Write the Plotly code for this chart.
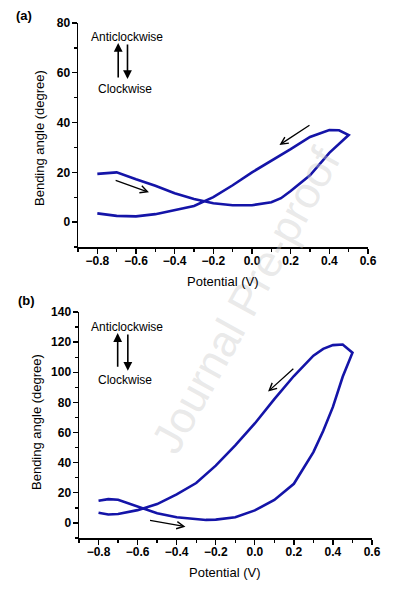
import plotly.graph_objects as go

# Panel (a) data: forward sweep then backward sweep
potential_a = [-0.8, -0.7, -0.6, -0.5, -0.4, -0.3, -0.2, -0.1, 0.0, 0.1, 0.15, 0.2, 0.3, 0.4, 0.5,
               0.45, 0.4, 0.3, 0.2, 0.1, 0.0, -0.1, -0.2, -0.3, -0.4, -0.5, -0.6, -0.7, -0.8]
angle_a = [19.4, 20.0, 17.2, 14.6, 11.6, 9.3, 7.6, 6.8, 6.8, 8.0, 9.6, 12.5, 18.8, 27.8, 35.0,
           36.9, 37.0, 34.2, 29.3, 24.6, 20.0, 14.8, 10.0, 6.5, 4.7, 3.2, 2.3, 2.5, 3.5]

# Panel (b) data
potential_b = [-0.8, -0.75, -0.7, -0.6, -0.5, -0.4, -0.3, -0.25, -0.2, -0.1, 0.0, 0.1, 0.2, 0.3, 0.35, 0.4, 0.45, 0.5,
               0.45, 0.4, 0.35, 0.3, 0.2, 0.1, 0.0, -0.1, -0.2, -0.3, -0.4, -0.5, -0.6, -0.7, -0.75, -0.8]
angle_b = [14.7, 15.8, 15.4, 10.8, 6.4, 3.8, 2.3, 2.0, 2.2, 3.8, 8.3, 15.3, 26.0, 47.0, 61.0, 77.0, 97.0, 113.0,
           118.4, 118.0, 115.5, 111.0, 97.5, 82.2, 66.0, 51.5, 38.0, 26.5, 19.0, 12.5, 8.5, 5.9, 5.6, 6.8]

x_ticks = [-0.8, -0.6, -0.4, -0.2, 0.0, 0.2, 0.4, 0.6]
y_ticks_a = [0, 20, 40, 60, 80]
y_ticks_b = [0, 20, 40, 60, 80, 100, 120, 140]

LINE = "#1414a8"
FONT = "Liberation Sans, Arial, sans-serif"
W, H = 394, 594

fig = go.Figure()
fig.add_trace(go.Scatter(x=potential_a, y=angle_a, mode="lines", line=dict(color=LINE, width=2.6),
                         xaxis="x", yaxis="y", showlegend=False, hoverinfo="skip"))
fig.add_trace(go.Scatter(x=potential_b, y=angle_b, mode="lines", line=dict(color=LINE, width=2.6),
                         xaxis="x2", yaxis="y2", showlegend=False, hoverinfo="skip"))

def px_domain(a, b, total):
    return [a / total, b / total]

ax_common = dict(showline=True, linecolor="black", linewidth=1.5, ticks="outside", ticklen=5,
                 tickwidth=1.3, tickcolor="black", showgrid=False, zeroline=False, mirror=False,
                 automargin=False,
                 tickfont=dict(family=FONT, size=12, color="black", weight="bold"))
minor_x = dict(dtick=0.1, tick0=-0.9, ticklen=3, ticks="outside", tickcolor="black")
minor_y = dict(dtick=10, tick0=-10, ticklen=3, ticks="outside", tickcolor="black")

fig.update_layout(
    width=W, height=H, margin=dict(l=0, r=0, t=0, b=0, autoexpand=False),
    paper_bgcolor="white", plot_bgcolor="white", hovermode=False,
    xaxis=dict(domain=px_domain(78, 368, W), range=[-0.9, 0.6], tickvals=x_ticks, tickformat=".1f",
               anchor="y", minor=minor_x, ticklabelstandoff=-3, **ax_common),
    yaxis=dict(domain=[1 - 247 / H, 1 - 23 / H], range=[-10, 80], tickvals=y_ticks_a, anchor="x",
               minor=minor_y, ticklabelstandoff=-1, **ax_common),
    xaxis2=dict(domain=px_domain(79, 372, W), range=[-0.9, 0.6], tickvals=x_ticks, tickformat=".1f",
                anchor="y2", minor=minor_x, ticklabelstandoff=-3, **ax_common),
    yaxis2=dict(domain=[1 - 538 / H, 1 - 312 / H], range=[-10, 140], tickvals=y_ticks_b, anchor="x2",
                minor=minor_y, ticklabelstandoff=-1, **ax_common),
)

def ptxt(cx, cy, t, size=13, angle=0, color="black", bold=False):
    f = dict(family=FONT, size=size, color=color)
    if bold:
        f["weight"] = "bold"
    return dict(xref="paper", yref="paper", x=cx / W, y=1 - cy / H, text=t, showarrow=False,
                xanchor="center", yanchor="middle", textangle=angle, font=f)

ann = []
# Watermark
ann.append(ptxt(245, 300, "Journal Pre-proof", size=44, angle=-61, color="rgba(200,200,200,0.4)"))
# axis titles
ann.append(ptxt(40, 138, "Bending angle (degree)", angle=-90))
ann.append(ptxt(36, 422, "Bending angle (degree)", angle=-90))
ann.append(ptxt(223, 282, "Potential (V)"))
ann.append(ptxt(225, 572, "Potential (V)"))
# panel labels
ann.append(ptxt(24, 15, "(a)", bold=True))
ann.append(ptxt(26, 300, "(b)", bold=True))

def txt(xr, yr, x, y, t):
    return dict(xref=xr, yref=yr, x=x, y=y, text=t, showarrow=False, xanchor="center", yanchor="middle",
                font=dict(family=FONT, size=12, color="black"))

def arr(xr, yr, x0, y0, x1, y1, head=5, width=1.3):
    return dict(xref=xr, yref=yr, axref=xr, ayref=yr, x=x1, y=y1, ax=x0, ay=y0, text="",
                showarrow=True, arrowhead=head, arrowsize=1.1, arrowwidth=width, arrowcolor="black")

# panel (a) annotations
ann.append(txt("x", "y", -0.648, 74.4, "Anticlockwise"))
ann.append(txt("x", "y", -0.658, 53.4, "Clockwise"))
ann.append(arr("x", "y", -0.692, 57.5, -0.692, 72.0, head=2, width=1.6))
ann.append(arr("x", "y", -0.644, 72.0, -0.644, 57.5, head=2, width=1.6))
ann.append(arr("x", "y", 0.305, 39.3, 0.142, 31.0))
ann.append(arr("x", "y", -0.713, 17.0, -0.533, 12.0))

# panel (b) annotations
ann.append(txt("x2", "y2", -0.654, 130, "Anticlockwise"))
ann.append(txt("x2", "y2", -0.666, 94.6, "Clockwise"))
ann.append(arr("x2", "y2", -0.702, 102.6, -0.702, 126.0, head=2, width=1.6))
ann.append(arr("x2", "y2", -0.650, 126.0, -0.650, 101.0, head=2, width=1.6))
ann.append(arr("x2", "y2", 0.205, 103.3, 0.068, 87.2))
ann.append(arr("x2", "y2", -0.544, 1.8, -0.355, -2.5))

fig.update_layout(annotations=ann)
fig.write_html("out.html", config={"displayModeBar": False, "staticPlot": True},
               post_script="document.body.style.margin='0';document.body.style.overflow='hidden';")
